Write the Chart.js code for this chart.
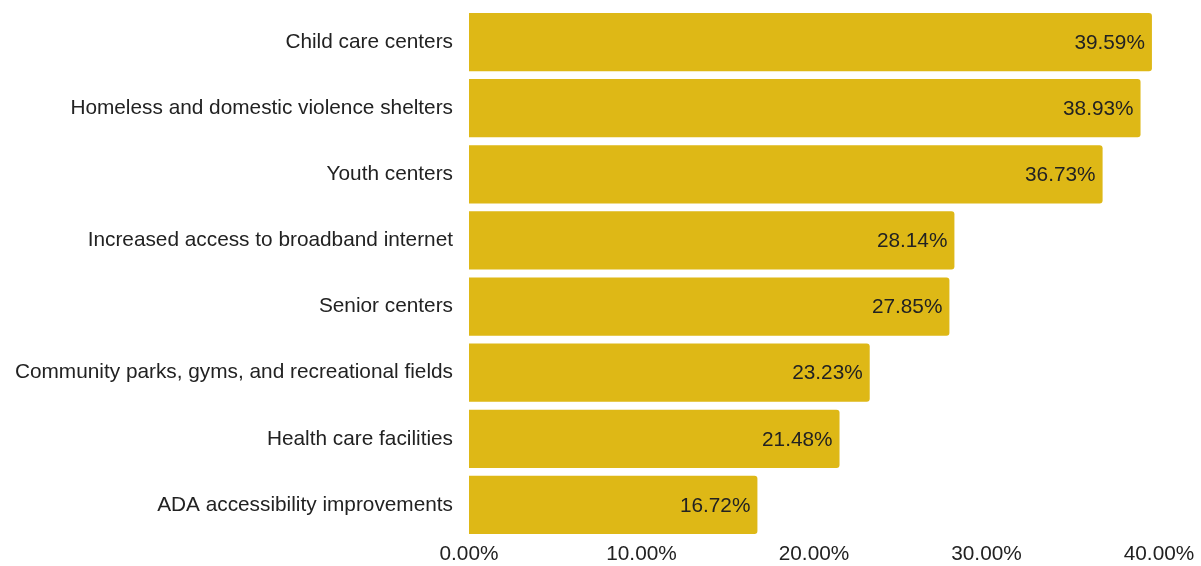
<!DOCTYPE html>
<html>
<head>
<meta charset="utf-8">
<script src="https://cdn.jsdelivr.net/npm/chart.js@4"></script>
<style>
  html, body { margin: 0; padding: 0; background: #fff; }
  #wrap { width: 1201px; height: 566px; }
</style>
</head>
<body>
<div id="wrap"><canvas id="chart"></canvas></div>
<script>
const categories = [
    'Child care centers',
    'Homeless and domestic violence shelters',
    'Youth centers',
    'Increased access to broadband internet',
    'Senior centers',
    'Community parks, gyms, and recreational fields',
    'Health care facilities',
    'ADA accessibility improvements'
];
const shares = [39.59, 38.93, 36.73, 28.14, 27.85, 23.23, 21.48, 16.72];
const xTicks = [0, 10, 20, 30, 40];

const barColor = '#DEB816';
const textColor = '#222222';
const fontFamily = 'Liberation Sans, Arial, sans-serif';
const fontSize = 20.8;

// value text drawn inside each bar, right aligned
const valueLabels = {
    id: 'valueLabels',
    afterDatasetsDraw(chart) {
        const { ctx } = chart;
        const meta = chart.getDatasetMeta(0);
        ctx.save();
        ctx.font = fontSize + 'px ' + fontFamily;
        ctx.fillStyle = textColor;
        ctx.textAlign = 'right';
        ctx.textBaseline = 'middle';
        meta.data.forEach((bar, i) => {
            ctx.fillText(shares[i].toFixed(2) + '%', bar.x - 7, bar.y + 1);
        });
        ctx.restore();
    }
};

new Chart(document.getElementById('chart'), {
    type: 'bar',
    data: {
        labels: categories,
        datasets: [{
            data: shares,
            backgroundColor: barColor,
            borderWidth: 0,
            borderRadius: 3,
            borderSkipped: 'start',
            barPercentage: 0.88,
            categoryPercentage: 1
        }]
    },
    options: {
        indexAxis: 'y',
        responsive: true,
        maintainAspectRatio: false,
        animation: false,
        layout: { padding: { top: 9, right: 42, bottom: 0, left: 0 } },
        plugins: {
            legend: { display: false },
            tooltip: { enabled: false }
        },
        scales: {
            x: {
                min: 0,
                max: 40,
                grid: { display: false, drawTicks: false },
                border: { display: false },
                afterBuildTicks(axis) {
                    axis.ticks = xTicks.map(v => ({ value: v }));
                },
                ticks: {
                    color: textColor,
                    font: { family: fontFamily, size: fontSize },
                    padding: 4,
                    maxRotation: 0,
                    callback: v => v.toFixed(2) + '%'
                },
                afterFit(axis) {
                    axis.height = 28;
                    axis.paddingLeft = 0;
                    axis.paddingRight = 0;
                }
            },
            y: {
                grid: { display: false, drawTicks: false },
                border: { display: false },
                ticks: {
                    color: textColor,
                    font: { family: fontFamily, size: fontSize },
                    padding: 16
                },
                afterFit(axis) {
                    axis.width = 469;
                    axis.paddingTop = 0;
                    axis.paddingBottom = 0;
                }
            }
        }
    },
    plugins: [valueLabels]
});
</script>
</body>
</html>
